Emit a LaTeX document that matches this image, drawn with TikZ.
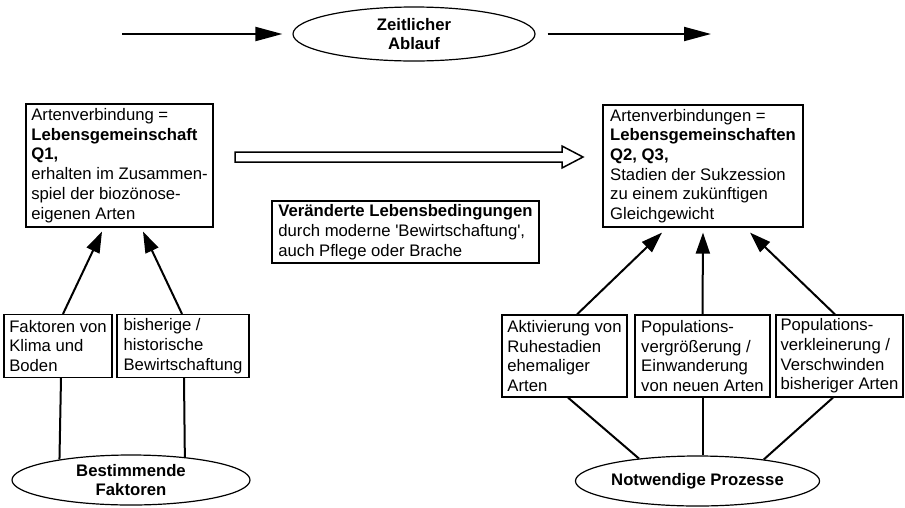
\documentclass[tikz,border=0pt]{standalone}
\usepackage{fontspec}
\setmainfont{Liberation Sans}
\usetikzlibrary{arrows.meta,shapes.geometric,calc}
\begin{document}
\begin{tikzpicture}[x=1pt,y=-1pt,
  every node/.style={font=\fontsize{16.7}{19.7}\selectfont},
  box/.style={draw, line width=1.2pt, align=left, inner xsep=2pt, inner ysep=1pt},
  ell/.style={draw, ellipse, line width=1.2pt, inner sep=0pt, align=center,
    font=\fontsize{16.7}{18.5}\selectfont\bfseries},
  arr/.style={line width=2pt, -{Triangle[length=21pt,width=14pt]}},
  arrtop/.style={line width=2pt, -{Triangle[length=27pt,width=14pt]}},
  ln/.style={line width=2pt},
  hollow/.style={line width=1.5pt, fill=white, line join=miter}]
\useasboundingbox[fill=white] (0,0) rectangle (905,507);

% top row
\node[ell, minimum width=242pt, minimum height=54pt] (Z) at (414,34) {Zeitlicher\\Ablauf};
\coordinate (tl) at (122,34);
\coordinate (tr) at (711,34);
\draw[arrtop] (tl) -- ([xshift=-10pt]Z.west);
\draw[arrtop] ([xshift=12pt]Z.east) -- (tr);

% upper boxes
\node[box, minimum width=187pt, minimum height=123pt] (A) at (119.5,165.5)
  {Artenverbindung =\\\textbf{Lebensgemeinschaft}\\\textbf{Q1,}\\erhalten im Zusammen-\\spiel der biozönose-\\eigenen Arten};
\node[box, minimum width=200pt, minimum height=122pt] (R) at (703,166)
  {Artenverbindungen =\\\textbf{Lebensgemeinschaften}\\\textbf{Q2, Q3,}\\Stadien der Sukzession\\zu einem zukünftigen\\Gleichgewicht};

% hollow arrow
\coordinate (hs) at (235,157);
\coordinate (he) at (583,157);
\draw[hollow] ($(hs)+(0,-5)$) -- ($(he)+(-21,-5)$) -- ($(he)+(-21,-11)$) -- (he)
  -- ($(he)+(-21,11)$) -- ($(he)+(-21,5)$) -- ($(hs)+(0,5)$) -- cycle;

\node[box, minimum width=267pt, minimum height=62pt] (V) at (405.5,232)
  {\textbf{Veränderte Lebensbedingungen}\\durch moderne \textquotesingle Bewirtschaftung\textquotesingle,\\auch Pflege oder Brache};

% lower left
\node[box, minimum width=108pt, minimum height=63pt] (F) at (58,346)
  {Faktoren von\\Klima und\\Boden};
\node[box, minimum width=132pt, minimum height=63pt] (B) at (183,346)
  {bisherige /\\historische\\Bewirtschaftung};
\node[ell, minimum width=238pt, minimum height=50pt] (BF) at (131,480) {Bestimmende\\Faktoren};

% lower right
\node[box, minimum width=125pt, minimum height=82pt] (P1) at (564.5,356)
  {Aktivierung von\\Ruhestadien\\ehemaliger\\Arten};
\node[box, minimum width=135pt, minimum height=82pt] (P2) at (702.5,356)
  {Populations-\\vergrößerung /\\Einwanderung\\von neuen Arten};
\node[box, minimum width=127pt, minimum height=82pt] (P3) at (839.5,356)
  {Populations-\\verkleinerung /\\Verschwinden\\bisheriger Arten};
\node[ell, minimum width=241pt, minimum height=50pt] (NP) at (697.5,481) {Notwendige Prozesse};

% arrows into upper boxes
\draw[arr] ([xshift=5pt]F.north) -- ([xshift=-17.5pt,yshift=-4pt]A.south);
\draw[arr] ([xshift=-1pt]B.north) -- ([xshift=23.5pt,yshift=-4pt]A.south);
\draw[arr] ([xshift=12.5pt]P1.north) -- ([xshift=-41pt,yshift=-5pt]R.south);
\draw[arr] (P2.north) -- ([yshift=-5pt]R.south);
\draw[arr] ([xshift=-4.5pt]P3.north) -- ([xshift=47pt,yshift=-5pt]R.south);

% lines to ellipses
\draw[ln] ([xshift=3pt]F.south) -- (BF.164);
\draw[ln] ([xshift=1pt]B.south) -- (BF.23);
\draw[ln] ([xshift=3.5pt]P1.south) -- (NP.159);
\draw[ln] (P2.south) -- (P2.south |- NP.north);
\draw[ln] ([xshift=-6.5pt]P3.south) -- (NP.18);
\end{tikzpicture}
\end{document}
